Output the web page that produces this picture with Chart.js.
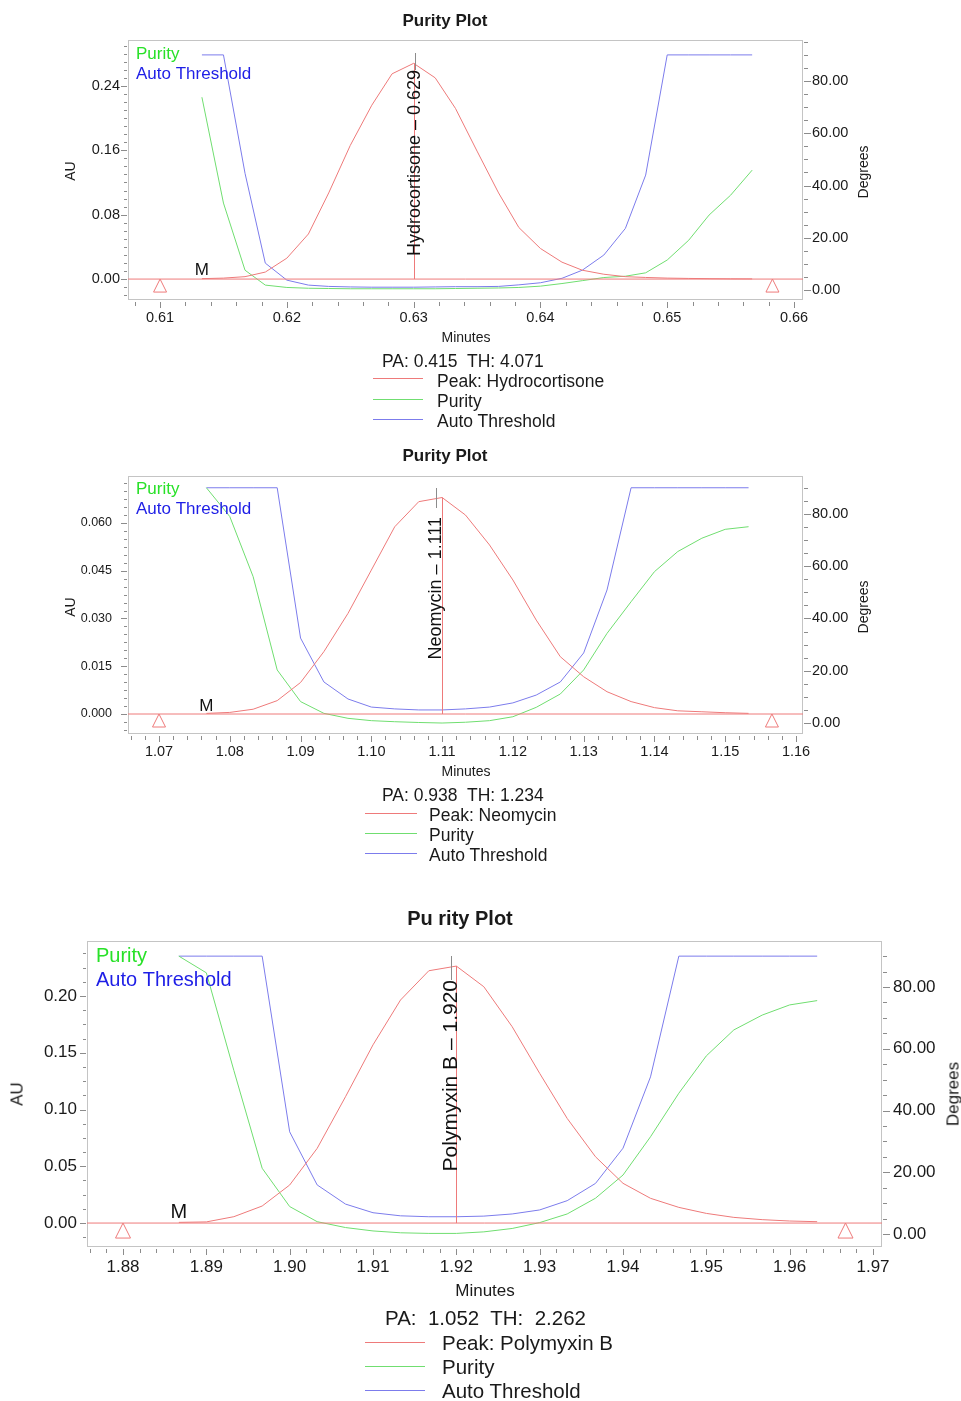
<!DOCTYPE html>
<html lang="en">
<head>
<meta charset="UTF-8">
<title>Purity Plot</title>
<script src="https://cdn.jsdelivr.net/npm/chart.js"></script>
<style>
  html, body { margin: 0; padding: 0; background: #fff; }
  #page { position: relative; width: 961px; height: 1401px; overflow: hidden; background: #fff;
          font-family: "Liberation Sans", Arial, sans-serif; color: #1a1a1a; }
  #page canvas { position: absolute; left: 0; }
  .lbl { position: absolute; white-space: pre; line-height: 1; }
  .key { position: absolute; height: 1px; }
</style>
</head>
<body>
<div id="page">
  <canvas id="plot1" width="961" height="340" style="top:0px"></canvas>
  <canvas id="plot2" width="961" height="334" style="top:440px"></canvas>
  <canvas id="plot3" width="961" height="387" style="top:900px"></canvas>
</div>
<script>
// ---- Hydrocortisone (minutes / AU / degrees) ----
const hcTimes = [0.6133, 0.6150, 0.6167, 0.6183, 0.6200, 0.6217, 0.6233, 0.6250, 0.6267, 0.6283, 0.6300, 0.6317, 0.6333, 0.6350,
                 0.6367, 0.6383, 0.6400, 0.6417, 0.6433, 0.6450, 0.6467, 0.6483, 0.6500, 0.6517, 0.6533, 0.6550, 0.6567];
const hcPeak = [0.0005, 0.0012, 0.0030, 0.0087, 0.0260, 0.0560, 0.1070, 0.1660, 0.2160, 0.2550, 0.2680, 0.2500, 0.2120, 0.1590,
                0.1070, 0.0640, 0.0380, 0.0210, 0.0110, 0.0060, 0.0030, 0.0020, 0.0012, 0.0008, 0.0005, 0.0003, 0.0002];
const hcPurity = [73.8, 33.3, 7.6, 1.9, 1.0, 0.7, 0.6, 0.5, 0.5, 0.5, 0.5, 0.5, 0.6, 0.7,
                  0.8, 1.0, 1.5, 2.5, 3.6, 4.8, 5.3, 6.6, 11.5, 19.1, 28.7, 36.3, 45.9];
const hcThreshold = [90, 90, 44.7, 10.3, 3.8, 1.9, 1.4, 1.2, 1.1, 1.1, 1.1, 1.2, 1.3, 1.3,
                     1.4, 2.0, 2.8, 4.5, 7.6, 13.4, 23.6, 44.0, 90, 90, 90, 90, 90];
const hcMarks = [0.6100, 0.6583];

// ---- Neomycin ----
const neoTimes = [1.0767, 1.0800, 1.0833, 1.0867, 1.0900, 1.0933, 1.0967, 1.1000, 1.1033, 1.1067, 1.1100, 1.1133,
                  1.1167, 1.1200, 1.1233, 1.1267, 1.1300, 1.1333, 1.1367, 1.1400, 1.1433, 1.1467, 1.1500, 1.1533];
const neoPeak = [0.0002, 0.0005, 0.0015, 0.0042, 0.0099, 0.0196, 0.0316, 0.0452, 0.0588, 0.0667, 0.0680, 0.0625,
                 0.0531, 0.0421, 0.0295, 0.0180, 0.0117, 0.0070, 0.0039, 0.0020, 0.0010, 0.0007, 0.0004, 0.0002];
const neoPurity = [90, 79.0, 56.0, 20.3, 8.2, 3.7, 1.8, 0.9, 0.5, 0.2, 0.0, 0.3,
                   0.9, 2.4, 6.0, 11.1, 20.3, 34.3, 46.4, 57.9, 65.6, 70.7, 74.1, 75.1];
const neoThreshold = [90, 90, 90, 90, 32.5, 15.7, 9.2, 6.1, 5.4, 5.0, 5.0, 5.4,
                      6.1, 7.7, 10.7, 15.7, 26.8, 50.9, 90, 90, 90, 90, 90, 90];
const neoMarks = [1.0700, 1.1566];

// ---- Polymyxin B ----
const pmbTimes = [1.8867, 1.8900, 1.8933, 1.8967, 1.9000, 1.9033, 1.9067, 1.9100, 1.9133, 1.9167, 1.9200, 1.9233,
                  1.9267, 1.9300, 1.9333, 1.9367, 1.9400, 1.9433, 1.9467, 1.9500, 1.9533, 1.9567, 1.9600, 1.9633];
const pmbPeak = [0.0006, 0.0010, 0.0056, 0.0150, 0.0335, 0.0658, 0.1113, 0.1570, 0.1965, 0.2223, 0.2264, 0.2082,
                 0.1730, 0.1319, 0.0922, 0.0584, 0.0350, 0.0218, 0.0138, 0.0085, 0.0050, 0.0030, 0.0018, 0.0012];
const pmbPurity = [90, 84.6, 53.0, 21.3, 8.9, 4.0, 2.1, 1.0, 0.4, 0.2, 0.2, 0.7,
                   1.8, 3.7, 6.5, 11.6, 19.1, 31.5, 45.6, 57.7, 66.1, 70.9, 74.2, 75.6];
const pmbThreshold = [90, 90, 90, 90, 33.1, 15.9, 9.7, 6.9, 5.9, 5.6, 5.6, 5.8,
                      6.5, 7.8, 10.8, 16.4, 27.8, 50.9, 90, 90, 90, 90, 90, 90];
const pmbMarks = [1.8800, 1.9667];

const RED = 'rgb(238,122,122)';
const GREEN = 'rgb(112,222,112)';
const BLUE = 'rgb(124,124,236)';
const FONT = '"Liberation Sans", Arial, sans-serif';

Chart.defaults.font.family = FONT;
Chart.defaults.color = '#1a1a1a';

function onStep(v, step) {
  const r = v / step;
  return Math.abs(r - Math.round(r)) < 1e-6;
}

function points(times, values) {
  return times.map((t, i) => ({ x: t, y: values[i] }));
}

// frame, tick marks, peak marker + label, "M", integration triangles, in-plot key
const purityDecor = {
  id: 'purityDecor',
  beforeDatasetsDraw(chart) {
    const { ctx, chartArea: a } = chart;
    ctx.save();
    ctx.strokeStyle = '#c4c4c4';
    ctx.lineWidth = 1;
    ctx.strokeRect(a.left + 0.5, a.top + 0.5, a.right - a.left - 1, a.bottom - a.top - 1);
    ctx.restore();
  },
  afterDraw(chart, args, o) {
    const { ctx, chartArea: a, scales } = chart;
    const x = scales.x, y = scales.y, y2 = scales.y2;
    ctx.save();
    ctx.lineWidth = 1;

    // tick marks, long for labelled ticks
    ctx.strokeStyle = '#8c8c8c';
    ctx.beginPath();
    x.ticks.forEach(t => {
      const px = Math.round(x.getPixelForValue(t.value)) + 0.5;
      const len = t.label ? 6 : 4;
      ctx.moveTo(px, a.bottom + 2);
      ctx.lineTo(px, a.bottom + 2 + len);
    });
    y.ticks.forEach(t => {
      const py = Math.round(y.getPixelForValue(t.value)) + 0.5;
      if (py < a.top || py > a.bottom) return;
      const len = t.label ? 6 : 3;
      ctx.moveTo(a.left - 1, py);
      ctx.lineTo(a.left - 1 - len, py);
    });
    y2.ticks.forEach(t => {
      const py = Math.round(y2.getPixelForValue(t.value)) + 0.5;
      if (py < a.top || py > a.bottom) return;
      const len = t.label ? 7 : 4;
      ctx.moveTo(a.right + 1, py);
      ctx.lineTo(a.right + 1 + len, py);
    });
    ctx.stroke();

    // apex line
    const peak = o.peak;
    let iMax = 0;
    peak.forEach((v, i) => { if (v > peak[iMax]) iMax = i; });
    const y0 = y.getPixelForValue(0);
    const ax = Math.round(x.getPixelForValue(o.times[iMax])) + 0.5;
    ctx.strokeStyle = RED;
    ctx.beginPath();
    ctx.moveTo(ax, y0);
    ctx.lineTo(ax, y.getPixelForValue(peak[iMax]));
    ctx.stroke();

    // integration start / end triangles
    ctx.beginPath();
    o.marks.forEach(t => {
      const tx = x.getPixelForValue(t);
      ctx.moveTo(tx, y0);
      ctx.lineTo(tx - o.tri / 2, y0 + o.tri);
      ctx.lineTo(tx + o.tri / 2, y0 + o.tri);
      ctx.closePath();
    });
    ctx.stroke();

    // leader and peak name
    const lx = Math.round(x.getPixelForValue(o.labelAt)) + 0.5;
    ctx.strokeStyle = '#8c8c8c';
    ctx.beginPath();
    ctx.moveTo(lx, a.top + o.leaderTop);
    ctx.lineTo(lx, a.top + o.leaderEnd);
    ctx.stroke();

    ctx.fillStyle = '#111';
    ctx.save();
    ctx.translate(lx, a.top + o.textTop);
    ctx.rotate(-Math.PI / 2);
    ctx.font = o.labelSize + 'px ' + FONT;
    ctx.textAlign = 'right';
    ctx.textBaseline = 'middle';
    ctx.fillText(o.label, 0, 0);
    ctx.restore();

    // "M"
    ctx.font = o.mSize + 'px ' + FONT;
    ctx.textAlign = 'center';
    ctx.textBaseline = 'alphabetic';
    ctx.fillText('M', x.getPixelForValue(o.times[0]), y0 - o.mGap);

    // key in the corner
    ctx.font = o.keySize + 'px ' + FONT;
    ctx.textAlign = 'left';
    ctx.textBaseline = 'middle';
    ctx.fillStyle = 'rgb(40,225,40)';
    ctx.fillText('Purity', a.left + o.keyX, a.top + o.keyY1);
    ctx.fillStyle = 'rgb(30,30,230)';
    ctx.fillText('Auto Threshold', a.left + o.keyX, a.top + o.keyY2);
    ctx.restore();
  }
};

function makePlot(id, p) {
  const line = (data, color, axis) => ({
    data, yAxisID: axis, borderColor: color, borderWidth: 1, pointRadius: 0, tension: 0, fill: false
  });
  const tickFont = { size: p.tickSize };
  return new Chart(document.getElementById(id), {
    type: 'line',
    data: {
      datasets: [
        line([{ x: p.x[0], y: 0 }, { x: p.x[1], y: 0 }], RED, 'y'),
        line(points(p.times, p.peak), RED, 'y'),
        line(points(p.times, p.purity), GREEN, 'y2'),
        line(points(p.times, p.threshold), BLUE, 'y2')
      ]
    },
    options: {
      responsive: false,
      animation: false,
      layout: { padding: { top: p.padTop, left: 0, right: 0, bottom: 0 } },
      plugins: {
        legend: { display: false },
        tooltip: { enabled: false },
        purityDecor: {
          times: p.times, peak: p.peak, marks: p.marks, label: p.label, labelAt: p.labelAt,
          leaderTop: p.leader[0], leaderEnd: p.leader[1], textTop: p.leader[2], labelSize: p.labelSize,
          tri: p.tri, mSize: p.mSize, mGap: p.mGap,
          keySize: p.keySize, keyX: p.key[0], keyY1: p.key[1], keyY2: p.key[2]
        }
      },
      scales: {
        x: {
          type: 'linear', min: p.x[0], max: p.x[1],
          grid: { display: false, drawTicks: false },
          border: { display: false },
          ticks: {
            stepSize: 0.002, includeBounds: false, autoSkip: false, maxRotation: 0,
            padding: p.pad[0], font: tickFont,
            callback: v => onStep(v, 0.01) ? v.toFixed(2) : ''
          },
          afterFit: s => { s.height = 40; }
        },
        y: {
          position: 'left', min: p.yl[0], max: p.yl[1],
          grid: { display: false, drawTicks: false },
          border: { display: false },
          ticks: {
            stepSize: p.yl[2], includeBounds: false, autoSkip: false,
            padding: p.pad[1], font: { size: p.leftTickSize || p.tickSize },
            callback: v => onStep(v, p.yl[3]) ? (Math.abs(v) < 1e-9 ? 0 : v).toFixed(p.yl[4]) : ''
          },
          afterFit: s => { s.width = p.leftW; }
        },
        y2: {
          position: 'right', min: p.yr[0], max: p.yr[1],
          grid: { display: false, drawTicks: false },
          border: { display: false },
          ticks: {
            stepSize: 5, includeBounds: false, autoSkip: false,
            padding: p.pad[2], font: tickFont,
            callback: v => onStep(v, 20) ? v.toFixed(2) : ''
          },
          afterFit: s => { s.width = 961 - p.rightEdge; }
        }
      }
    },
    plugins: [purityDecor]
  });
}

makePlot('plot1', {
  times: hcTimes, peak: hcPeak, purity: hcPurity, threshold: hcThreshold, marks: hcMarks,
  x: [0.60747, 0.66071], yl: [-0.026, 0.297, 0.01, 0.08, 2], yr: [-3.8, 95.7],
  padTop: 40, leftW: 128, rightEdge: 803, tickSize: 14.5, pad: [9, 8, 9],
  label: 'Hydrocortisone – 0.629', labelAt: 0.6301, leader: [13, 30, 30], labelSize: 18,
  tri: 13, mSize: 17, mGap: 4, keySize: 17, key: [8, 14, 34]
});

makePlot('plot2', {
  times: neoTimes, peak: neoPeak, purity: neoPurity, threshold: neoThreshold, marks: neoMarks,
  x: [1.06562, 1.16099], yl: [-0.00628, 0.07476, 0.0025, 0.015, 3], yr: [-4.2, 94.5],
  padTop: 36, leftW: 128, rightEdge: 803, tickSize: 14.5, leftTickSize: 12.5, pad: [9, 16, 9],
  label: 'Neomycin – 1.111', labelAt: 1.1091, leader: [12, 32, 41], labelSize: 18,
  tri: 13, mSize: 17, mGap: 3, keySize: 17, key: [8, 13, 33]
});

makePlot('plot3', {
  times: pmbTimes, peak: pmbPeak, purity: pmbPurity, threshold: pmbThreshold, marks: pmbMarks,
  x: [1.87568, 1.97108], yl: [-0.0211, 0.2485, 0.0125, 0.05, 2], yr: [-4.2, 94.9],
  padTop: 41, leftW: 87, rightEdge: 882, tickSize: 17, pad: [10, 10, 11],
  label: 'Polymyxin B – 1.920', labelAt: 1.9194, leader: [15, 39, 39], labelSize: 21,
  tri: 15, mSize: 20, mGap: 5, keySize: 20, key: [9, 15, 39]
});

// ---- titles, axis names and the PA/TH keys below each plot ----
const page = document.getElementById('page');

function text(str, x, y, size, opts = {}) {
  const d = document.createElement('div');
  d.className = 'lbl';
  d.textContent = str;
  d.style.left = x + 'px';
  d.style.top = y + 'px';
  d.style.fontSize = size + 'px';
  if (opts.bold) d.style.fontWeight = 'bold';
  const tx = opts.left ? '0' : '-50%';
  d.style.transform = 'translate(' + tx + ', -50%)' + (opts.rotate ? ' rotate(-90deg)' : '');
  page.appendChild(d);
}

function keyLine(x1, x2, y, color) {
  const d = document.createElement('div');
  d.className = 'key';
  d.style.left = x1 + 'px';
  d.style.width = (x2 - x1) + 'px';
  d.style.top = y + 'px';
  d.style.background = color;
  page.appendChild(d);
}

// plot 1
text('Purity Plot', 445, 20, 17, { bold: true });
text('AU', 70, 171, 14, { rotate: true });
text('Degrees', 863, 172, 14, { rotate: true });
text('Minutes', 466, 337, 14);
text('PA: 0.415  TH: 4.071', 382, 362, 17.5, { left: true });
keyLine(373, 423, 378, RED);
text('Peak: Hydrocortisone', 437, 382, 17.5, { left: true });
keyLine(373, 423, 399, GREEN);
text('Purity', 437, 402, 17.5, { left: true });
keyLine(373, 423, 419, BLUE);
text('Auto Threshold', 437, 422, 17.5, { left: true });

// plot 2
text('Purity Plot', 445, 455, 17, { bold: true });
text('AU', 70, 607, 14, { rotate: true });
text('Degrees', 863, 607, 14, { rotate: true });
text('Minutes', 466, 771, 14);
text('PA: 0.938  TH: 1.234', 382, 796, 17.5, { left: true });
keyLine(365, 417, 813, RED);
text('Peak: Neomycin', 429, 816, 17.5, { left: true });
keyLine(365, 417, 833, GREEN);
text('Purity', 429, 836, 17.5, { left: true });
keyLine(365, 417, 853, BLUE);
text('Auto Threshold', 429, 856, 17.5, { left: true });

// plot 3
text('Pu rity Plot', 460, 918, 20, { bold: true });
text('AU', 17, 1094, 17, { rotate: true });
text('Degrees', 953, 1094, 17, { rotate: true });
text('Minutes', 485, 1290, 17);
text('PA:  1.052  TH:  2.262', 385, 1318, 20.5, { left: true });
keyLine(365, 425, 1342, RED);
text('Peak: Polymyxin B', 442, 1343, 20.5, { left: true });
keyLine(365, 425, 1366, GREEN);
text('Purity', 442, 1367, 20.5, { left: true });
keyLine(365, 425, 1390, BLUE);
text('Auto Threshold', 442, 1391, 20.5, { left: true });
</script>
</body>
</html>
